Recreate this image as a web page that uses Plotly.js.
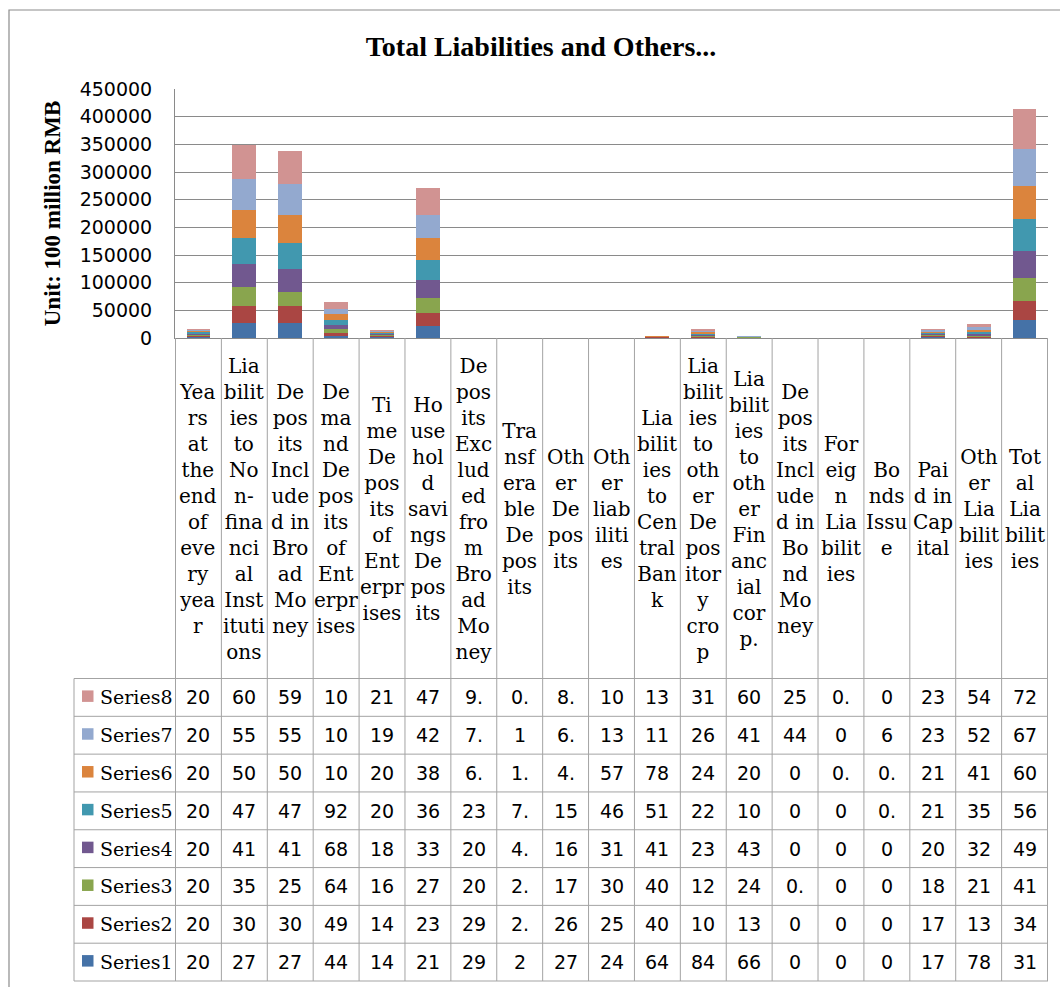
<!DOCTYPE html>
<html>
<head>
<meta charset="utf-8">
<script src="https://cdn.plot.ly/plotly-3.0.1.min.js"></script>
<style>html,body{margin:0;padding:0;background:#fff;}</style>
</head>
<body>
<div id="chart" style="width:1060px;height:987px;"></div>
<script>
// ---------- DATA ----------
const categories = [
  "Years at the end of every year",
  "Liabilities to Non-financial Institutions",
  "Deposits Included in Broad Money",
  "Demand Deposits of Enterprises",
  "Time Deposits of Enterprises",
  "Household savings Deposits",
  "Deposits Excluded from Broad Money",
  "Transferable Deposits",
  "Other Deposits",
  "Other liabilities",
  "Liabilities to Central Bank",
  "Liabilities to other Depository crop",
  "Liabilities to other Financial corp.",
  "Deposits Included in Bond Money",
  "Foreign Liabilities",
  "Bonds Issue",
  "Paid in Capital",
  "Other Liabilities",
  "Total Liabilities"
];
// category labels as wrapped in the reference's data-table header
const headerLabels = [
  "Yea<br>rs<br>at<br>the<br>end<br>of<br>eve<br>ry<br>yea<br>r",
  "Lia<br>bilit<br>ies<br>to<br>No<br>n-<br>fina<br>nci<br>al<br>Inst<br>ituti<br>ons",
  "De<br>pos<br>its<br>Incl<br>ude<br>d in<br>Bro<br>ad<br>Mo<br>ney",
  "De<br>ma<br>nd<br>De<br>pos<br>its<br>of<br>Ent<br>erpr<br>ises",
  "Ti<br>me<br>De<br>pos<br>its<br>of<br>Ent<br>erpr<br>ises",
  "Ho<br>use<br>hol<br>d<br>savi<br>ngs<br>De<br>pos<br>its",
  "De<br>pos<br>its<br>Exc<br>lud<br>ed<br>fro<br>m<br>Bro<br>ad<br>Mo<br>ney",
  "Tra<br>nsf<br>era<br>ble<br>De<br>pos<br>its",
  "Oth<br>er<br>De<br>pos<br>its",
  "Oth<br>er<br>liab<br>iliti<br>es",
  "Lia<br>bilit<br>ies<br>to<br>Cen<br>tral<br>Ban<br>k",
  "Lia<br>bilit<br>ies<br>to<br>oth<br>er<br>De<br>pos<br>itor<br>y<br>cro<br>p",
  "Lia<br>bilit<br>ies<br>to<br>oth<br>er<br>Fin<br>anc<br>ial<br>cor<br>p.",
  "De<br>pos<br>its<br>Incl<br>ude<br>d in<br>Bo<br>nd<br>Mo<br>ney",
  "For<br>eig<br>n<br>Lia<br>bilit<br>ies",
  "Bo<br>nds<br>Issu<br>e",
  "Pai<br>d in<br>Cap<br>ital",
  "Oth<br>er<br>Lia<br>bilit<br>ies",
  "Tot<br>al<br>Lia<br>bilit<br>ies"
];

const seriesNames = ["Series1","Series2","Series3","Series4","Series5","Series6","Series7","Series8"];

const series1 = [2005, 27100, 27000, 4400, 1450, 21100, 29.4, 2, 27.5, 24.6, 640, 845, 660, 0, 0, 0, 1710, 785, 31740];
const series2 = [2006, 30200, 30500, 4950, 1480, 23400, 29.1, 2.3, 26.4, 25.3, 400, 1010, 130, 0, 0, 0, 1760, 1310, 34810];
const series3 = [2007, 35600, 25400, 6450, 1690, 27500, 20.3, 2.6, 17.2, 30.1, 405, 1250, 240, 0.4, 0, 0, 1830, 2150, 41475];
const series4 = [2008, 41200, 41400, 6850, 1890, 33000, 20.8, 4.1, 16.3, 31.2, 410, 2330, 430, 0, 0, 0, 2010, 3240, 49620];
const series5 = [2009, 47100, 47000, 9250, 2090, 36700, 23.5, 7.2, 15.8, 46.5, 510, 2240, 1050, 0, 0, 0.3, 2120, 3560, 56580];
const series6 = [2010, 50700, 50600, 10600, 2040, 38400, 6.4, 1.5, 4.6, 57.3, 780, 2450, 200, 0, 0.2, 0.5, 2170, 4150, 60450];
const series7 = [2011, 55600, 55700, 10800, 1990, 42500, 7.2, 1, 6.2, 13.4, 1100, 2680, 410, 44, 0, 6, 2310, 5230, 67380];
const series8 = [2012, 60500, 59600, 10900, 2190, 47600, 9.1, 0.8, 8.4, 10.6, 130, 3120, 600, 25, 0.3, 0, 2330, 5420, 72125];

const yTicks = [0, 50000, 100000, 150000, 200000, 250000, 300000, 350000, 400000, 450000];

// ---------- STYLE ----------
const seriesColors = ["#4572A7","#AA4643","#89A54E","#71588F","#4198AF","#DB843D","#93A9CF","#D19392"];
const allSeries = [series1, series2, series3, series4, series5, series6, series7, series8];

const W = 1060, H = 987;
const PL = 175, PR = 1048, PT = 89, PB = 338;
const px = X => (X - PL) / (PR - PL);
const py = Y => (PB - Y) / (PB - PT);

const gridColor = "#8a8a8a";
const tableColor = "#a3a3a3";
const headerMid = 509;
const rowTop = 678.5, rowBottom = 981;
const rowH = (rowBottom - rowTop) / 8;
const labelLeft = 74;

// the reference's data table clips each value to the first two characters
const cellText = v => String(v).slice(0, 2);

const traces = allSeries.map((vals, i) => ({
  type: "bar",
  name: seriesNames[i],
  x: categories,
  y: vals,
  marker: {color: seriesColors[i], line: {width: 0}},
  showlegend: false
}));

const shapes = [];
const annotations = [];

// outer chart border
shapes.push({type:"rect", xref:"paper", yref:"paper",
  x0: px(9), x1: px(1075), y0: py(10), y1: py(1000),
  line:{color:"#8c8c8c", width:1.2}, fillcolor:"rgba(0,0,0,0)", layer:"below"});

// table vertical lines (category boundaries)
for (let k = 0; k <= categories.length; k++) {
  shapes.push({type:"line", xref:"x", yref:"paper",
    x0: k - 0.5, x1: k - 0.5, y0: 0, y1: py(rowBottom),
    line:{color: tableColor, width:1}});
}
// label column verticals
shapes.push({type:"line", xref:"paper", yref:"paper",
  x0: px(labelLeft), x1: px(labelLeft), y0: py(rowTop), y1: py(rowBottom),
  line:{color: tableColor, width:1}});
// horizontal row lines
for (let r = 0; r <= 8; r++) {
  const Y = rowTop + r * rowH;
  shapes.push({type:"line", xref:"paper", yref:"paper",
    x0: px(labelLeft), x1: 1, y0: py(Y), y1: py(Y),
    line:{color: tableColor, width:1}});
}

// header labels
headerLabels.forEach((t, i) => {
  annotations.push({xref:"x", yref:"paper", x: i, y: py(headerMid),
    text: t, showarrow:false, xanchor:"center", yanchor:"middle", align:"center",
    font:{family:"DejaVu Serif", size:20, color:"#000"}});
});

// data rows: Series8 at top down to Series1
for (let r = 0; r < 8; r++) {
  const s = 7 - r;
  const yc = rowTop + (r + 0.5) * rowH;
  shapes.push({type:"rect", xref:"paper", yref:"paper",
    x0: px(82), x1: px(93.5), y0: py(yc - 7), y1: py(yc + 4.5),
    line:{width:0}, fillcolor: seriesColors[s]});
  annotations.push({xref:"paper", yref:"paper", x: px(98), y: py(yc),
    text: seriesNames[s], showarrow:false, xanchor:"left", yanchor:"middle",
    font:{family:"DejaVu Serif", size:19, color:"#000"}});
  allSeries[s].forEach((v, i) => {
    annotations.push({xref:"x", yref:"paper", x: i, y: py(yc),
      text: cellText(v), showarrow:false, xanchor:"center", yanchor:"middle",
      font:{family:"DejaVu Sans", size:19, color:"#000"}});
  });
}

const layout = {
  width: W, height: H,
  margin: {l: PL, r: W - PR, t: PT, b: H - PB, pad: 0},
  paper_bgcolor: "#fff", plot_bgcolor: "#fff",
  barmode: "stack",
  bargap: 0.48,
  title: {text: "Total Liabilities and Others...", xref:"container", yref:"container",
    x: 541/W, xanchor:"center", y: 1 - 46/H, yanchor:"middle",
    font:{family:"Liberation Serif", size:28, weight:700, color:"#000"}},
  xaxis: {type:"category", showticklabels:false, ticks:"", showgrid:false,
    showline:true, linecolor: gridColor, linewidth:1, zeroline:false, fixedrange:true},
  yaxis: {range:[0, 450000], tickvals: yTicks, ticktext: yTicks.map(String),
    showgrid:true, gridcolor: gridColor, gridwidth:1,
    showline:true, linecolor: gridColor, linewidth:1, zeroline:false, ticks:"",
    ticklabelstandoff: 18,
    tickfont:{family:"DejaVu Sans", size:19, color:"#000"},
    title:{text:"Unit: 100 million RMB", standoff: 12,
      font:{family:"Liberation Serif", size:23, weight:700, color:"#000"}}},
  shapes: shapes,
  annotations: annotations
};

Plotly.newPlot("chart", traces, layout, {staticPlot:true, displayModeBar:false});
</script>
</body>
</html>
